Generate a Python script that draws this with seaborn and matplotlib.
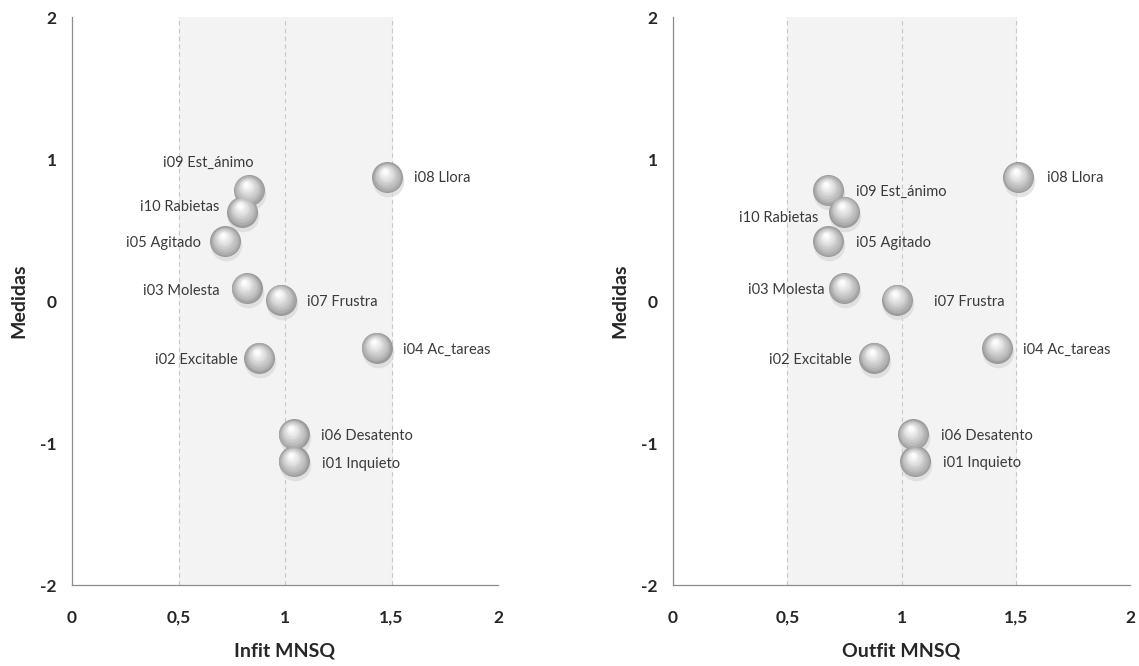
import numpy as np
import pandas as pd
import matplotlib
matplotlib.use("Agg")
import matplotlib.pyplot as plt
import matplotlib.transforms as mtrans
import seaborn as sns

# ── DATA ─────────────────────────────────────────────────────────────────────
items   = ["i01 Inquieto", "i02 Excitable", "i03 Molesta", "i04 Ac_tareas",
           "i05 Agitado", "i06 Desatento", "i07 Frustra", "i08 Llora",
           "i09 Est_ánimo", "i10 Rabietas"]
medidas = [-1.13, -0.40, 0.09, -0.33, 0.42, -0.94, 0.01, 0.87, 0.78, 0.63]
infit   = [1.04, 0.88, 0.82, 1.43, 0.72, 1.04, 0.98, 1.48, 0.83, 0.80]
outfit  = [1.06, 0.88, 0.75, 1.42, 0.68, 1.05, 0.98, 1.51, 0.68, 0.75]

x_ticks  = [0, 0.5, 1, 1.5, 2]
x_labels = ["0", "0,5", "1", "1,5", "2"]
y_ticks  = [-2, -1, 0, 1, 2]

df = pd.DataFrame({"item": items, "medida": medidas,
                   "infit": infit, "outfit": outfit})

# label placement (pixel offsets from the sphere centre, alignment)
lab_infit = {
    "i01 Inquieto":  (28, -3, "left"),
    "i02 Excitable": (-22, -2, "right"),
    "i03 Molesta":   (-27, -3, "right"),
    "i04 Ac_tareas": (26, -2, "left"),
    "i05 Agitado":   (-24, -2, "right"),
    "i06 Desatento": (27, -2, "left"),
    "i07 Frustra":   (26, -2, "left"),
    "i08 Llora":     (27, -1, "left"),
    "i09 Est_ánimo": (5, 27, "right"),
    "i10 Rabietas":  (-23, 5, "right"),
}
lab_outfit = {
    "i01 Inquieto":  (28, -2, "left"),
    "i02 Excitable": (-22, -2, "right"),
    "i03 Molesta":   (-20, -2, "right"),
    "i04 Ac_tareas": (26, -2, "left"),
    "i05 Agitado":   (28, -2, "left"),
    "i06 Desatento": (28, -2, "left"),
    "i07 Frustra":   (37, -2, "left"),
    "i08 Llora":     (29, -1, "left"),
    "i09 Est_ánimo": (28, -2, "left"),
    "i10 Rabietas":  (-26, -6, "right"),
}

# ── STYLE ────────────────────────────────────────────────────────────────────
sns.set_style("white")
plt.rcParams["font.family"] = ["Lato", "DejaVu Sans"]

W, H = 1139, 666
fig = plt.figure(figsize=(W / 100, H / 100), dpi=100)
ax1 = fig.add_axes([72 / W, 1 - 585 / H, 426 / W, 568 / H])
ax2 = fig.add_axes([673 / W, 1 - 585 / H, 457 / W, 568 / H])

GRAY = "#8c8c8c"
SPH_D = 31  # sphere diameter in px


def sphere(ax, x, y):
    def shift(dx, dy):
        return mtrans.offset_copy(ax.transData, fig=fig, x=dx, y=dy, units="dots")

    pt = SPH_D * 72 / 100
    # soft shadow below
    ax.scatter(x, y, s=(pt * 1.02) ** 2, color="#d9d9d9", alpha=0.7,
               linewidths=0, transform=shift(1, -4), zorder=3)
    sns.scatterplot(x=x, y=y, s=pt ** 2, color="#9a9a9a", linewidth=0,
                    ax=ax, zorder=4, legend=False)
    n = 14
    c0 = np.array([0.60, 0.60, 0.60])
    c1 = np.array([0.99, 0.99, 0.99])
    for i in range(1, n + 1):
        f = i / n
        col = c0 + (c1 - c0) * f ** 0.8
        ax.scatter(x, y, s=(pt * (1 - 0.85 * f)) ** 2, color=col, linewidths=0,
                   transform=shift(-2.5 * f, 6 * f), zorder=4 + i * 0.01)


def panel(ax, col, labels, xlabel):
    ax.axvspan(0.5, 1.5, color="#f2f3f2", zorder=0)
    for gx in [0.5, 1, 1.5, 2]:
        ax.axvline(gx, color="#c8c8c8", lw=0.8, ls=(0, (4, 3)), zorder=1)
    sphere(ax, df[col], df["medida"])
    for _, row in df.iterrows():
        dx, dy, ha = labels[row["item"]]
        ax.annotate(row["item"], (row[col], row["medida"]), xytext=(dx, dy),
                    textcoords="offset pixels", ha=ha, va="center",
                    fontsize=10.5, color="#3a3a3a", zorder=6)
    ax.set_xlim(0, 2)
    ax.set_ylim(-2, 2)
    ax.set_xticks(x_ticks)
    ax.set_xticklabels(x_labels)
    ax.set_yticks(y_ticks)
    ax.set_yticklabels([str(v) for v in y_ticks])
    for s in ["top", "right"]:
        ax.spines[s].set_visible(False)
    for s in ["left", "bottom"]:
        ax.spines[s].set_color(GRAY)
        ax.spines[s].set_linewidth(0.9)
    ax.tick_params(axis="y", length=5, width=0.9, color=GRAY, pad=6,
                   labelsize=12.5)
    ax.tick_params(axis="x", length=7, width=0.9, color=GRAY, pad=11,
                   labelsize=12.5)
    for t in ax.get_xticklabels() + ax.get_yticklabels():
        t.set_fontweight("bold")
    ax.set_xlabel(xlabel, fontsize=14, fontweight="bold", labelpad=12)
    ax.set_ylabel("Medidas", fontsize=14, fontweight="bold", labelpad=9)
    ax.patch.set_alpha(0)


panel(ax1, "infit", lab_infit, "Infit MNSQ")
panel(ax2, "outfit", lab_outfit, "Outfit MNSQ")

fig.savefig("out.png", dpi=100)
